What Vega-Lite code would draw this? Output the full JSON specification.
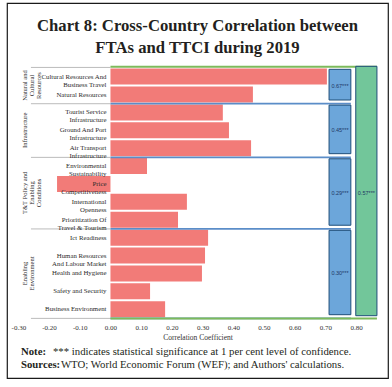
{
  "$schema": "https://vega.github.io/schema/vega-lite/v6.json",
  "width": 381,
  "height": 375,
  "autosize": {"type": "none"},
  "padding": {"left": 7, "top": 3, "right": 4, "bottom": 9},
  "background": "white",
  "config": {
    "view": {"stroke": "#1a1a1a", "strokeWidth": 1.2},
    "font": "Liberation Serif"
  },
  "resolve": {"axis": {"x": "independent", "y": "independent"}},
  "title": {
    "text": ["Chart 8: Cross-Country Correlation between", "FTAs and TTCI during 2019"],
    "font": "Liberation Serif",
    "fontSize": 16.7,
    "fontWeight": "bold",
    "color": "#231f20",
    "anchor": "middle",
    "frame": "group",
    "offset": -54,
    "lineHeight": 22
  },
  "data": {
    "values": [
      {"row": 1, "indicator": "Cultural Resources And\nBusiness Travel", "group": "Natural and\nCultural\nResources", "groupCorr": "0.67***", "value": 0.705},
      {"row": 2, "indicator": "Natural Resources", "group": "Natural and\nCultural\nResources", "groupCorr": "0.67***", "value": 0.464},
      {"row": 3, "indicator": "Tourist Service\nInfrastructure", "group": "Infrastructure", "groupCorr": "0.45***", "value": 0.366},
      {"row": 4, "indicator": "Ground And Port\nInfrastructure", "group": "Infrastructure", "groupCorr": "0.45***", "value": 0.386},
      {"row": 5, "indicator": "Air Transport\nInfrastructure", "group": "Infrastructure", "groupCorr": "0.45***", "value": 0.458},
      {"row": 6, "indicator": "Environmental\nSustainability", "group": "T&T Policy and\nEnabling\nConditions", "groupCorr": "0.29***", "value": 0.119},
      {"row": 7, "indicator": "Price\nCompetitiveness", "group": "T&T Policy and\nEnabling\nConditions", "groupCorr": "0.29***", "value": -0.174},
      {"row": 8, "indicator": "International\nOpenness", "group": "T&T Policy and\nEnabling\nConditions", "groupCorr": "0.29***", "value": 0.249},
      {"row": 9, "indicator": "Prioritization Of\nTravel & Tourism", "group": "T&T Policy and\nEnabling\nConditions", "groupCorr": "0.29***", "value": 0.22},
      {"row": 10, "indicator": "Ict Readiness", "group": "Enabling\nEnvironment", "groupCorr": "0.30***", "value": 0.318},
      {"row": 11, "indicator": "Human Resources\nAnd Labour Market", "group": "Enabling\nEnvironment", "groupCorr": "0.30***", "value": 0.308},
      {"row": 12, "indicator": "Health and Hygiene", "group": "Enabling\nEnvironment", "groupCorr": "0.30***", "value": 0.298},
      {"row": 13, "indicator": "Safety and Security", "group": "Enabling\nEnvironment", "groupCorr": "0.30***", "value": 0.129},
      {"row": 14, "indicator": "Business Environment", "group": "Enabling\nEnvironment", "groupCorr": "0.30***", "value": 0.178}
    ]
  },
  "layer": [
    {
      "mark": {"type": "bar", "orient": "horizontal", "size": 16, "color": "#F27B78"},
      "encoding": {
        "x": {
          "field": "value", "type": "quantitative",
          "scale": {"domain": [-0.337, 0.904], "nice": false, "zero": false},
          "axis": {
            "values": [-0.3, -0.2, -0.1, 0, 0.1, 0.2, 0.3, 0.4, 0.5, 0.6, 0.7, 0.8],
            "labelExpr": "replace(format(datum.value, '.2f'), '\u2212', '-')",
            "labelOverlap": false, "labelFlush": false, "labelBound": false,
            "offset": -56.4, "domain": false, "ticks": false, "grid": false,
            "labelFont": "Liberation Serif", "labelFontSize": 7, "labelColor": "#333333", "labelPadding": 1.5,
            "title": "Correlation Coefficient", "titleFont": "Liberation Serif", "titleFontSize": 7.5,
            "titleFontWeight": "normal", "titleColor": "#333333", "titlePadding": 3
          }
        },
        "x2": {"datum": 0},
        "y": {
          "field": "row", "type": "quantitative",
          "scale": {"domain": [-2.836, 17.567], "reverse": true, "nice": false, "zero": false},
          "axis": null
        }
      }
    },
    {
      "mark": {"type": "rule", "color": "#BBBBBB", "strokeWidth": 1, "yOffset": 9.19},
      "encoding": {
        "x": {"datum": -0.259, "type": "quantitative", "axis": null},
        "x2": {"datum": 0},
        "y": {"aggregate": "max", "field": "row", "type": "quantitative", "axis": null},
        "detail": {"field": "group"}
      }
    },
    {
      "mark": {"type": "rule", "color": "#BBBBBB", "strokeWidth": 1, "yOffset": -9.19},
      "encoding": {
        "x": {"datum": -0.259, "type": "quantitative", "axis": null},
        "x2": {"datum": 0},
        "y": {"aggregate": "min", "field": "row", "type": "quantitative", "axis": null}
      }
    },
    {
      "mark": {"type": "rule", "color": "#5B8DC8", "strokeWidth": 1.8, "yOffset": 9.19},
      "encoding": {
        "x": {"datum": 0, "type": "quantitative", "axis": null},
        "x2": {"datum": 0.783},
        "y": {"aggregate": "max", "field": "row", "type": "quantitative", "axis": null},
        "detail": {"field": "group"}
      }
    },
    {
      "mark": {"type": "rule", "color": "#7DBA5B", "strokeWidth": 2, "yOffset": 9.19},
      "encoding": {
        "x": {"datum": 0, "type": "quantitative", "axis": null},
        "x2": {"datum": 0.868},
        "y": {"aggregate": "max", "field": "row", "type": "quantitative", "axis": null}
      }
    },
    {
      "mark": {"type": "rule", "color": "#7DBA5B", "strokeWidth": 2, "yOffset": -9.8},
      "encoding": {
        "x": {"datum": 0, "type": "quantitative", "axis": null},
        "x2": {"datum": 0.868},
        "y": {"aggregate": "min", "field": "row", "type": "quantitative", "axis": null}
      }
    },
    {
      "mark": {"type": "rect", "fill": "#6CA6DA", "stroke": "#1F4E79", "strokeWidth": 1, "yOffset": -7.3, "y2Offset": 5.5},
      "encoding": {
        "x": {"datum": 0.712, "type": "quantitative", "axis": null},
        "x2": {"datum": 0.783},
        "y": {"aggregate": "min", "field": "row", "type": "quantitative", "axis": null},
        "y2": {"aggregate": "max", "field": "row"},
        "detail": {"field": "group"}
      }
    },
    {
      "mark": {"type": "rect", "fill": "#72C69A", "stroke": "#1F4E79", "strokeWidth": 1, "yOffset": -10.3, "y2Offset": 6.5},
      "encoding": {
        "x": {"datum": 0.799, "type": "quantitative", "axis": null},
        "x2": {"datum": 0.868},
        "y": {"aggregate": "min", "field": "row", "type": "quantitative", "axis": null},
        "y2": {"aggregate": "max", "field": "row"}
      }
    },
    {
      "mark": {"type": "text", "align": "right", "baseline": "middle", "dx": -4, "lineBreak": "\n", "fontSize": 6.8, "lineHeight": 8, "color": "#2b2b2b", "font": "Liberation Serif"},
      "encoding": {
        "x": {"datum": 0, "type": "quantitative", "axis": null},
        "y": {"field": "row", "type": "quantitative", "axis": null},
        "text": {"field": "indicator"}
      }
    },
    {
      "mark": {"type": "text", "align": "center", "baseline": "middle", "angle": 270, "lineBreak": "\n", "fontSize": 6.5, "lineHeight": 7, "color": "#2b2b2b", "font": "Liberation Serif"},
      "encoding": {
        "x": {"datum": -0.278, "type": "quantitative", "axis": null},
        "y": {"aggregate": "mean", "field": "row", "type": "quantitative", "axis": null},
        "text": {"field": "group"}
      }
    },
    {
      "mark": {"type": "text", "align": "center", "baseline": "middle", "fontSize": 5.5, "color": "#1F3864", "font": "Liberation Sans"},
      "encoding": {
        "x": {"datum": 0.7475, "type": "quantitative", "axis": null},
        "y": {"aggregate": "mean", "field": "row", "type": "quantitative", "axis": null},
        "text": {"field": "groupCorr"},
        "detail": {"field": "group"}
      }
    },
    {
      "mark": {"type": "text", "align": "center", "baseline": "middle", "fontSize": 5.5, "color": "#1F3864", "font": "Liberation Sans"},
      "encoding": {
        "x": {"datum": 0.8335, "type": "quantitative", "axis": null},
        "y": {"aggregate": "mean", "field": "row", "type": "quantitative", "axis": null},
        "text": {"value": "0.57***"}
      }
    },
    {
      "data": {"values": [{"note": "Note:"}]},
      "mark": {"type": "text", "align": "left", "baseline": "middle", "fontSize": 10.75, "fontWeight": "bold", "color": "#231f20", "font": "Liberation Serif"},
      "encoding": {
        "x": {"datum": -0.2915, "type": "quantitative", "axis": null},
        "y": {"datum": 16.37, "type": "quantitative", "axis": null},
        "text": {"field": "note"}
      }
    },
    {
      "data": {"values": [{"note": "*** indicates statistical significance at 1 per cent level of confidence."}]},
      "mark": {"type": "text", "align": "left", "baseline": "middle", "fontSize": 10.75, "color": "#231f20", "font": "Liberation Serif"},
      "encoding": {
        "x": {"datum": -0.1873, "type": "quantitative", "axis": null},
        "y": {"datum": 16.37, "type": "quantitative", "axis": null},
        "text": {"field": "note"}
      }
    },
    {
      "data": {"values": [{"note": "Sources:"}]},
      "mark": {"type": "text", "align": "left", "baseline": "middle", "fontSize": 10.75, "fontWeight": "bold", "color": "#231f20", "font": "Liberation Serif"},
      "encoding": {
        "x": {"datum": -0.2915, "type": "quantitative", "axis": null},
        "y": {"datum": 17.13, "type": "quantitative", "axis": null},
        "text": {"field": "note"}
      }
    },
    {
      "data": {"values": [{"note": "WTO; World Economic Forum (WEF); and Authors' calculations."}]},
      "mark": {"type": "text", "align": "left", "baseline": "middle", "fontSize": 10.75, "color": "#231f20", "font": "Liberation Serif"},
      "encoding": {
        "x": {"datum": -0.1612, "type": "quantitative", "axis": null},
        "y": {"datum": 17.13, "type": "quantitative", "axis": null},
        "text": {"field": "note"}
      }
    }
  ]
}
